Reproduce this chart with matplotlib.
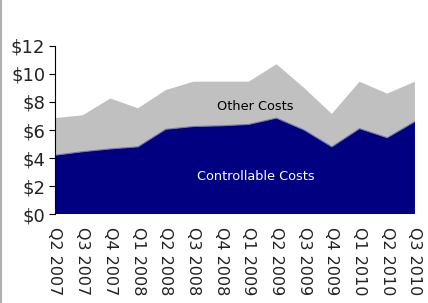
import matplotlib
matplotlib.use('Agg')
import matplotlib.pyplot as plt
import numpy as np

plt.rcParams['font.family'] = ['DejaVu Sans']

quarters = ['Q2 2007', 'Q3 2007', 'Q4 2007', 'Q1 2008', 'Q2 2008', 'Q3 2008', 'Q4 2008',
            'Q1 2009', 'Q2 2009', 'Q3 2009', 'Q4 2009', 'Q1 2010', 'Q2 2010', 'Q3 2010']
controllable = [4.2, 4.45, 4.65, 4.8, 6.05, 6.25, 6.3, 6.4, 6.85, 6.0, 4.8, 6.1, 5.45, 6.6]
total = [6.85, 7.05, 8.25, 7.55, 8.85, 9.45, 9.45, 9.45, 10.7, 9.0, 7.15, 9.45, 8.6, 9.45]
other = [t - c for t, c in zip(total, controllable)]
yticks = [0, 2, 4, 6, 8, 10, 12]

fig = plt.figure(figsize=(4.28, 3.03), dpi=100)
ax = fig.add_axes([0.1285, 0.2937, 0.841, 0.5545])

x = np.arange(len(quarters))
ax.stackplot(x, controllable, other, colors=['#000080', '#c0c0c0'], linewidth=0)
ax.plot(x, controllable, color='#6f74c8', linewidth=0.8)

ax.set_xlim(0, len(quarters) - 1)
ax.set_ylim(0, 12)
ax.set_yticks(yticks)
ax.set_yticklabels(['$%d' % v for v in yticks], fontsize=13, color='#222222')
ax.set_xticks(x)
ax.set_xticklabels(quarters, rotation=270, fontsize=11.5, color='#222222')
ax.tick_params(axis='x', length=0, pad=9)
ax.tick_params(axis='y', length=4, width=0.8, pad=3)

for s in ['top', 'right', 'bottom']:
    ax.spines[s].set_visible(False)
ax.spines['left'].set_linewidth(0.8)

ax.text(7.25, 7.65, 'Other Costs', ha='center', va='center', fontsize=9.3, color='black')
ax.text(7.25, 2.65, 'Controllable Costs', ha='center', va='center', fontsize=9.3, color='white')

# grey frame edge on the left
fig.add_artist(plt.Line2D([0.002, 0.002], [0, 1], color='#b0b0b0', linewidth=1.5,
                          transform=fig.transFigure))

plt.savefig('out.png')
